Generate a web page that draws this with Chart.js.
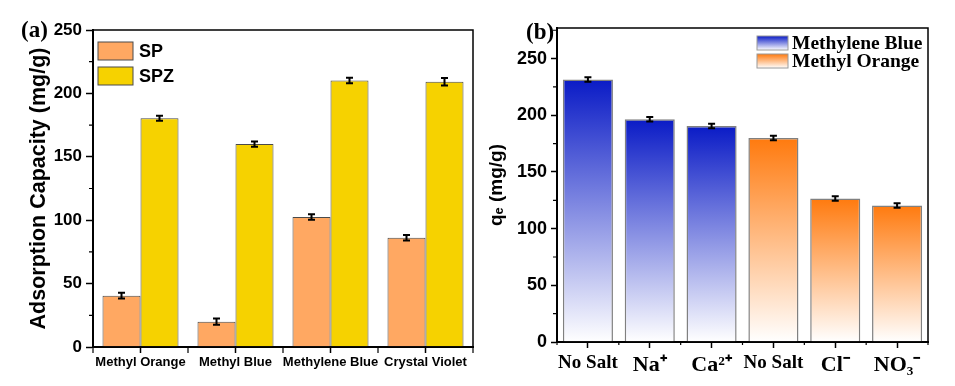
<!DOCTYPE html>
<html>
<head>
<meta charset="utf-8">
<script src="https://cdn.jsdelivr.net/npm/chart.js@4.4.1/dist/chart.umd.min.js"></script>
<style>
  html, body { margin: 0; padding: 0; background: #fff; }
  #wrap { position: relative; width: 955px; height: 386px; }
  canvas { position: absolute; top: 0; }
  #chart-a { left: 0; }
  #chart-b { left: 480px; }
</style>
</head>
<body>
<div id="wrap">
  <canvas id="chart-a" width="480" height="386"></canvas>
  <canvas id="chart-b" width="475" height="386"></canvas>
</div>
<script>
// Panel (a): adsorption capacity of SP and SPZ
const dyes = ['Methyl Orange', 'Methyl Blue', 'Methylene Blue', 'Crystal Violet'];
const spValues = [40.5, 20, 102.5, 86.2];
const spErrors = [2.2, 2.5, 2.2, 2.2];
const spzValues = [180.4, 160, 210.2, 209.2];
const spzErrors = [2, 2, 2.2, 3];
const yTicksA = [0, 50, 100, 150, 200, 250];

// Panel (b): effect of salts on qe
const saltLabels = ['No Salt', 'Na⁺', 'Ca²⁺', 'No Salt', 'Cl⁻', 'NO₃⁻'];
const saltGroups = ['Methylene Blue', 'Methylene Blue', 'Methylene Blue', 'Methyl Orange', 'Methyl Orange', 'Methyl Orange'];
const qeValues = [231.5, 196.5, 190.5, 180, 126.5, 120.5];
const qeErrors = [2, 2, 2, 2, 2, 2];
const yTicksB = [0, 50, 100, 150, 200, 250];

const SANS = "'Liberation Sans', Arial, sans-serif";
const SERIF = "'Liberation Serif', 'Times New Roman', serif";
const groupColors = { 'Methylene Blue': '#0A1BC6', 'Methyl Orange': '#FF7A0E' };

// box round the plot, minor ticks, extra tick marks and error bars
function extrasPlugin(cfg) {
  return {
    id: 'extras',
    afterDatasetsDraw(chart) {
      const ctx = chart.ctx;
      const { left, right, top, bottom } = chart.chartArea;
      const x = chart.scales.x;
      const y = chart.scales.y;
      ctx.save();
      ctx.strokeStyle = '#000';

      // error bars
      ctx.lineWidth = 2;
      chart.data.datasets.forEach((ds, di) => {
        const meta = chart.getDatasetMeta(di);
        meta.data.forEach((bar, i) => {
          const v = ds.data[i], e = ds.errors[i];
          const y1 = y.getPixelForValue(v + e);
          const y2 = y.getPixelForValue(v - e);
          ctx.beginPath();
          ctx.moveTo(bar.x, y1); ctx.lineTo(bar.x, y2);
          ctx.moveTo(bar.x - 3.5, y1); ctx.lineTo(bar.x + 3.5, y1);
          ctx.moveTo(bar.x - 3.5, y2); ctx.lineTo(bar.x + 3.5, y2);
          ctx.stroke();
        });
      });

      // frame
      ctx.lineWidth = 1.5;
      ctx.strokeRect(left, top, right - left, bottom - top);

      // minor y ticks
      ctx.lineWidth = 1.2;
      ctx.beginPath();
      for (let v = 25; v < y.max; v += 50) {
        const py = y.getPixelForValue(v);
        ctx.moveTo(left, py); ctx.lineTo(left - cfg.minorLen, py);
      }
      // category boundary ticks on x
      const n = chart.data.labels.length;
      const w = (right - left) / n;
      for (let i = 0; i <= n; i++) {
        const px = left + i * w;
        ctx.moveTo(px, bottom); ctx.lineTo(px, bottom + cfg.boundaryLen);
      }
      ctx.stroke();

      // panel letter
      ctx.fillStyle = '#000';
      ctx.font = 'bold 23px ' + SERIF;
      ctx.textBaseline = 'alphabetic';
      ctx.textAlign = 'left';
      ctx.fillText(cfg.letter, cfg.letterX, cfg.letterY);
      ctx.restore();
    }
  };
}

// legend drawn inside the plot area
function legendPlugin(items, cfg) {
  return {
    id: 'innerLegend',
    afterDraw(chart) {
      const ctx = chart.ctx;
      ctx.save();
      items.forEach((it, i) => {
        const bx = cfg.x, by = cfg.y + i * cfg.step;
        let fill = it.color;
        if (it.gradient) {
          fill = ctx.createLinearGradient(0, by, 0, by + cfg.h);
          fill.addColorStop(0, it.color);
          fill.addColorStop(1, '#FFFFFF');
        }
        ctx.fillStyle = fill;
        ctx.fillRect(bx, by, cfg.w, cfg.h);
        ctx.strokeStyle = cfg.border;
        ctx.lineWidth = 1;
        ctx.strokeRect(bx, by, cfg.w, cfg.h);
        ctx.fillStyle = '#000';
        ctx.font = cfg.font;
        ctx.textBaseline = 'middle';
        ctx.fillText(it.label, bx + cfg.w + cfg.gap, by + cfg.h / 2 + 1);
      });
      ctx.restore();
    }
  };
}

function barGradient(c) {
  const chart = c.chart;
  if (!chart.chartArea || c.type !== 'data') return '#cccccc';
  const y = chart.scales.y;
  const top = y.getPixelForValue(c.raw);
  const bottom = y.getPixelForValue(0);
  const g = chart.ctx.createLinearGradient(0, top, 0, bottom);
  g.addColorStop(0, groupColors[saltGroups[c.dataIndex]]);
  g.addColorStop(1, '#FFFFFF');
  return g;
}

// ---- chart (a)
new Chart(document.getElementById('chart-a'), {
  type: 'bar',
  data: {
    labels: dyes,
    datasets: [
      { label: 'SP', data: spValues, errors: spErrors, backgroundColor: '#FFA862', borderColor: '#4a4a4a', borderWidth: 1 },
      { label: 'SPZ', data: spzValues, errors: spzErrors, backgroundColor: '#F6D200', borderColor: '#4a4a4a', borderWidth: 1 }
    ]
  },
  options: {
    responsive: false,
    animation: false,
    categoryPercentage: 0.8,
    barPercentage: 1.0,
    layout: { padding: { left: 0, top: 30, right: 7, bottom: 0 } },
    plugins: { legend: { display: false }, tooltip: { enabled: false } },
    scales: {
      x: {
        grid: { offset: false, drawOnChartArea: false, tickLength: 6, tickWidth: 1.5, tickColor: '#000' },
        border: { color: '#000', width: 2 },
        ticks: { color: '#000', font: { family: SANS, weight: 'bold', size: 13 }, padding: 2, maxRotation: 0, autoSkip: false },
        afterFit: (s) => { s.height = 39; }
      },
      y: {
        min: 0, max: 250,
        afterBuildTicks: (axis) => { axis.ticks = yTicksA.map(v => ({ value: v })); },
        grid: { drawOnChartArea: false, tickLength: 7, tickWidth: 1.5, tickColor: '#000' },
        border: { color: '#000', width: 2 },
        ticks: { color: '#000', font: { family: SANS, weight: 'bold', size: 17 }, padding: 4 },
        title: { display: true, text: 'Adsorption Capacity (mg/g)', color: '#000', font: { family: SANS, weight: 'bold', size: 21.5 }, padding: { top: 26, bottom: 0 } },
        afterFit: (s) => { s.width = 93; }
      }
    }
  },
  plugins: [
    extrasPlugin({ minorLen: 4, boundaryLen: 6, letter: '(a)', letterX: 21, letterY: 37 }),
    legendPlugin([
      { label: 'SP', color: '#FFA862' },
      { label: 'SPZ', color: '#F6D200' }
    ], { x: 98, y: 42, step: 25, w: 35, h: 18, gap: 6, border: '#4a4a4a', font: 'bold 18px ' + SANS })
  ]
});

// ---- chart (b)
new Chart(document.getElementById('chart-b'), {
  type: 'bar',
  data: {
    labels: saltLabels,
    datasets: [
      { label: 'qe', data: qeValues, errors: qeErrors, backgroundColor: barGradient, borderColor: '#808080', borderWidth: 1.5 }
    ]
  },
  options: {
    responsive: false,
    animation: false,
    categoryPercentage: 1.0,
    barPercentage: 0.81,
    layout: { padding: { left: 0, top: 28, right: 27, bottom: 0 } },
    plugins: { legend: { display: false }, tooltip: { enabled: false } },
    scales: {
      x: {
        grid: { offset: false, drawOnChartArea: false, tickLength: 6, tickWidth: 1.5, tickColor: '#000' },
        border: { color: '#000', width: 2 },
        ticks: {
          color: '#000', padding: 4, maxRotation: 0, autoSkip: false,
          font: (c) => ({ family: SERIF, weight: 'bold', size: saltLabels[c.index] === 'No Salt' ? 19 : 22 })
        },
        afterFit: (s) => { s.height = 44; }
      },
      y: {
        min: 0, max: 277,
        afterBuildTicks: (axis) => { axis.ticks = yTicksB.map(v => ({ value: v })); },
        grid: { drawOnChartArea: false, tickLength: 6, tickWidth: 1.5, tickColor: '#000' },
        border: { color: '#000', width: 2 },
        ticks: { color: '#000', font: { family: SANS, weight: 'bold', size: 18 }, padding: 4 },
        title: { display: true, text: 'qₑ (mg/g)', color: '#000', font: { family: SANS, weight: 'bold', size: 19 }, padding: { top: 5, bottom: 0 } },
        afterFit: (s) => { s.width = 77; }
      }
    }
  },
  plugins: [
    extrasPlugin({ minorLen: 4, boundaryLen: 3, letter: '(b)', letterX: 46, letterY: 39 }),
    legendPlugin([
      { label: 'Methylene Blue', color: groupColors['Methylene Blue'], gradient: true },
      { label: 'Methyl Orange', color: groupColors['Methyl Orange'], gradient: true }
    ], { x: 277, y: 36, step: 18, w: 31, h: 14, gap: 4, border: '#9a9a9a', font: 'bold 19.5px ' + SERIF })
  ]
});
</script>
</body>
</html>
